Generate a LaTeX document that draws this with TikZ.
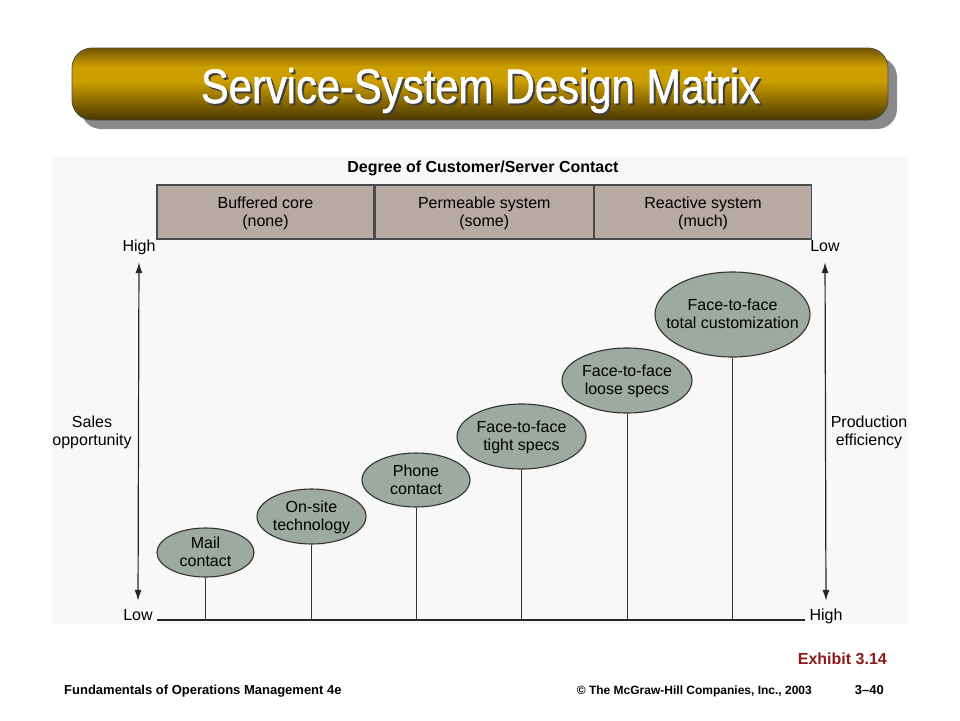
\documentclass[tikz,border=0pt]{standalone}
\usepackage{fontspec}
\setmainfont{Liberation Sans}
\newfontfamily\titlefont[FakeBold=1.3]{Liberation Sans}
\usetikzlibrary{shapes.geometric,arrows.meta,positioning}

\definecolor{bardark}{HTML}{4A3700}
\definecolor{bargold}{HTML}{CC9E00}
\definecolor{bartop}{HTML}{735500}
\definecolor{barshadow}{HTML}{8A8A8A}
\definecolor{panelbg}{HTML}{F8F8F8}
\definecolor{hdrfill}{HTML}{B7AAA3}
\definecolor{hdrline}{HTML}{4A4A4A}
\definecolor{ovalfill}{HTML}{9DAA9F}
\definecolor{exred}{HTML}{8C1A1A}
\pgfdeclareverticalshading{titlebar}{100bp}{color(0bp)=(bardark); color(25bp)=(bardark); color(52bp)=(bargold); color(62bp)=(bargold); color(75bp)=(bartop); color(100bp)=(bartop)}
\newcommand{\ovallines}[1]{\makebox[0pt]{\raisebox{-6pt}[0pt][0pt]{\begin{tabular}{@{}c@{}}#1\end{tabular}}}}

\begin{document}
\begin{tikzpicture}[x=1pt,y=-1pt,
    txt/.style={font=\fontsize{16}{18}\selectfont,align=center,inner sep=1pt},
    lbl/.style={txt,text height=11pt,text depth=3pt},
    hdr/.style={txt,draw=hdrline,line width=1.3pt,fill=hdrfill,minimum height=54pt,inner sep=0pt},
    oval/.style={txt,ellipse,draw=black!80,line width=1.1pt,fill=ovalfill,inner sep=0pt},
    stem/.style={draw=black!80,line width=1pt},
    dbl/.style={draw=black!85,line width=1.2pt,{Latex[length=11pt,width=7pt]}-{Latex[length=11pt,width=7pt]},shorten <=7pt,shorten >=7pt},
    foot/.style={font=\bfseries\fontsize{13}{15}\selectfont,inner sep=0pt}]
\useasboundingbox (0,0) rectangle (960,720);

\fill[barshadow,rounded corners=20pt] (81,57) rectangle (897,129);
\shade[shading=titlebar,draw=black!70,line width=0.8pt,rounded corners=20pt] (72,48) rectangle (888,120);
\node[anchor=base,inner sep=0pt,text=black!75] (titleshadow) at (482.5,105) {\resizebox{559pt}{35pt}{\titlefont Service-System Design Matrix}};
\node[anchor=base,inner sep=0pt,text=white] (title) at (480.5,103) {\resizebox{559pt}{35pt}{\titlefont Service-System Design Matrix}};

\fill[panelbg] (52,157) rectangle (908,624);
\node[txt,anchor=base,font=\bfseries\fontsize{16}{18}\selectfont] (degree) at (483,172) {Degree of Customer/Server Contact};

\node[hdr,minimum width=217pt] (buffered) at (265.5,212) {\ovallines{Buffered core\\(none)}};
\node[hdr,minimum width=218pt,right=0pt of buffered] (permeable) {\ovallines{Permeable system\\(some)}};
\node[hdr,minimum width=217pt,right=0pt of permeable] (reactive) {\ovallines{Reactive system\\(much)}};

\node[lbl,anchor=base] (hiL) at (139,251) {High};
\node[lbl,anchor=base] (loL) at (138,620) {Low};
\node[lbl,anchor=base] (loR) at (825,251) {Low};
\node[lbl,anchor=base] (hiR) at (826,620) {High};
\node[txt] (sales) at (92,432) {Sales\\opportunity};
\node[txt] (prod) at (869,432) {Production\\efficiency};
\draw[dbl] (hiL.south) -- (loL.north);
\draw[dbl] (loR.south) -- (hiR.north);
\draw[draw=black!85,line width=1.2pt] ([xshift=3pt]loL.base east) -- ([xshift=-3pt]hiR.base west);

\node[oval,minimum width=97pt,minimum height=49pt] (mail) at (205.5,552.5) {\ovallines{Mail\\contact}};
\node[oval,minimum width=109pt,minimum height=55pt] (onsite) at (311.5,516.5) {\ovallines{On-site\\technology}};
\node[oval,minimum width=108pt,minimum height=54pt] (phone) at (416,480) {\ovallines{Phone\\contact}};
\node[oval,minimum width=129pt,minimum height=65pt] (tight) at (521.5,436.5) {\ovallines{Face-to-face\\tight specs}};
\node[oval,minimum width=130pt,minimum height=65pt] (loose) at (627,380.5) {\ovallines{Face-to-face\\loose specs}};
\node[oval,minimum width=155pt,minimum height=85pt] (total) at (732.5,314.5) {\ovallines{Face-to-face\\total customization}};
\foreach \n in {mail,onsite,phone,tight,loose,total}
  \draw[stem] (\n.south) -- (\n.south |- loL.base);

\node[anchor=base east,inner sep=0pt,font=\bfseries\fontsize{16}{18}\selectfont,text=exred] (exhibit) at (887,664) {Exhibit 3.14};
\node[foot,anchor=base west] (book) at (64,694) {Fundamentals of Operations Management 4e};
\node[foot,anchor=base east,font=\bfseries\fontsize{12}{14}\selectfont] (copy) at (812,694) {© The McGraw-Hill Companies, Inc., 2003};
\node[foot,anchor=base east] (page) at (884,694) {3–40};
\end{tikzpicture}
\end{document}
